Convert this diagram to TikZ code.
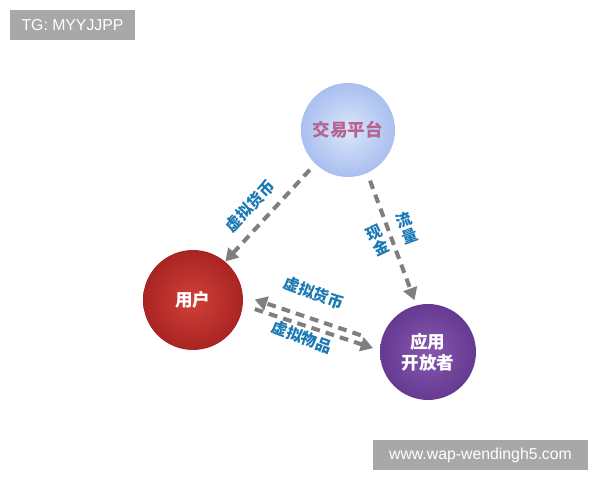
\documentclass[tikz,border=0pt]{standalone}
\usepackage{fontspec}
\setmainfont{Liberation Sans}
\newfontfamily\cjk{Noto Sans CJK SC}
\usetikzlibrary{arrows.meta}
\definecolor{platcore}{HTML}{DCE6FB}
\definecolor{platrim}{HTML}{A9BFEF}
\definecolor{plattext}{HTML}{B4648E}
\definecolor{usercore}{HTML}{D2403A}
\definecolor{userrim}{HTML}{A82422}
\definecolor{devcore}{HTML}{8757AE}
\definecolor{devrim}{HTML}{663A91}
\definecolor{flowgray}{HTML}{7F7F7F}
\definecolor{tagblue}{HTML}{1B78B4}
\definecolor{stampgray}{HTML}{A8A8A8}

\begin{document}
\begin{tikzpicture}[x=0.02cm, y=-0.02cm,
  hub/.style={circle, inner sep=0pt, align=center, font=\cjk\bfseries\fontsize{10}{12}\selectfont},
  flow/.style={draw=flowgray, line width=2.3pt, dash pattern=on 5pt off 3.5pt, -{Triangle[width=8pt,length=7pt,fill=flowgray]}},
  tag/.style={text=tagblue, inner sep=1pt, align=center, font=\cjk\bfseries\fontsize{9}{9.5}\selectfont},
  stamp/.style={fill=stampgray, text=white, inner sep=0pt, minimum height=0.6cm, font=\fontsize{9}{11}\selectfont}]
\useasboundingbox (0,0) rectangle (600,480);

% watermarks
\node[stamp, minimum width=2.5cm] (tg) at (72.5,25) {TG: MYYJJPP};
\node[stamp, minimum width=4.3cm] (site) at (480.5,455) {www.wap-wendingh5.com};

% the three parties
\node[hub, minimum size=1.88cm, shade, inner color=platcore, outer color=platrim, text=plattext] (platform) at (348,130) {交易平台};
\node[hub, minimum size=2cm, shade, inner color=usercore, outer color=userrim, text=white] (user) at (193,300) {用户};
\node[hub, minimum size=1.92cm, shade, inner color=devcore, outer color=devrim, text=white] (dev) at (428,352) {应用\\开放者};

% flows
\draw[flow, shorten <=4.5pt] (platform.226) -- (user.50);
\draw[flow, shorten <=4.5pt, shorten >=3pt] (platform.294) -- (dev.104);
\draw[flow, shorten <=12pt, shorten >=7pt] (dev.168) -- (user.5);
\draw[flow, shorten <=7pt, shorten >=4pt] (user.-6) -- (dev.178);

% labels
\node[tag, rotate=47] (coin1) at (250,206) {虚拟货币};
\node[tag, rotate=20] (traffic) at (407,228) {流\\量};
\node[tag, rotate=25] (cash) at (378,240) {现\\金};
\node[tag, rotate=-20] (coin2) at (314,293) {虚拟货币};
\node[tag, rotate=-20] (goods) at (302,337) {虚拟物品};
\end{tikzpicture}
\end{document}
